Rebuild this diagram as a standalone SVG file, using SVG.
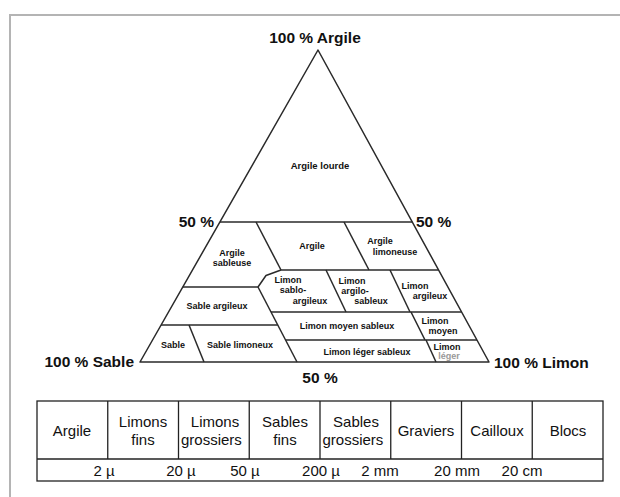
<svg xmlns="http://www.w3.org/2000/svg" width="620" height="497" viewBox="0 0 620 497">
<style>
.frame{fill:none;stroke:#b4b4b4;stroke-width:2}
.ln{fill:none;stroke:#2a2a2a;stroke-width:1.5;stroke-linejoin:round}
.big{font-family:"Liberation Sans",Arial,sans-serif;font-weight:bold;font-size:15.5px;fill:#111}
.lab{font-family:"Liberation Sans",Arial,sans-serif;font-weight:bold;font-size:9px;fill:#111;text-anchor:middle}
.tb{fill:none;stroke:#222;stroke-width:1.3}
.tt{font-family:"Liberation Sans",Arial,sans-serif;font-size:15px;fill:#111;text-anchor:middle}
.st{text-anchor:start}
</style>
<rect width="620" height="497" fill="#fff"/>
<rect class="frame" x="10" y="15" width="620" height="500"/>

<g id="axes-labels">
<text class="big" x="315" y="43" text-anchor="middle">100 % Argile</text>
<text class="big" x="214" y="227" text-anchor="end">50 %</text>
<text class="big" x="416" y="227">50 %</text>
<text class="big" x="134" y="367" text-anchor="end">100 % Sable</text>
<text class="big" x="494" y="368">100 % Limon</text>
<text class="big" x="320" y="383" text-anchor="middle">50 %</text>
</g>

<g id="connectors">
<polygon class="ln" points="318,50 140,362 489,362"/>
<line class="ln" x1="220" y1="222" x2="412.3" y2="222"/>
<line class="ln" x1="256" y1="222" x2="281" y2="270"/>
<line class="ln" x1="344" y1="222" x2="369" y2="270"/>
<line class="ln" x1="281" y1="270" x2="438.6" y2="270"/>
<polyline class="ln" points="281,270 266,275.5 258,287"/>
<line class="ln" x1="182.8" y1="287" x2="258" y2="287"/>
<line class="ln" x1="258" y1="287" x2="297" y2="362"/>
<line class="ln" x1="326" y1="270" x2="346" y2="312"/>
<line class="ln" x1="390" y1="270" x2="410" y2="312"/>
<line class="ln" x1="271" y1="312" x2="461.6" y2="312"/>
<line class="ln" x1="161" y1="325" x2="277.8" y2="325"/>
<line class="ln" x1="411" y1="312" x2="425" y2="340"/>
<line class="ln" x1="285.6" y1="340" x2="477" y2="340"/>
<line class="ln" x1="426" y1="340" x2="436" y2="362"/>
<line class="ln" x1="189" y1="325" x2="204" y2="362"/>
</g>

<g id="argile-lourde"><text class="lab" x="320" y="169" style="font-size:9.5px">Argile lourde</text></g>
<g id="argile-sableuse"><text class="lab" x="232" y="256">Argile</text><text class="lab" x="232" y="266">sableuse</text></g>
<g id="argile"><text class="lab" x="312" y="249">Argile</text></g>
<g id="argile-limoneuse"><text class="lab" x="380" y="244">Argile</text><text class="lab" x="395" y="255">limoneuse</text></g>
<g id="limon-sablo-argileux"><text class="lab" x="288" y="283">Limon</text><text class="lab" x="293" y="293">sablo-</text><text class="lab" x="310" y="304">argileux</text></g>
<g id="limon-argilo-sableux"><text class="lab" x="352" y="284">Limon</text><text class="lab" x="355" y="294">argilo-</text><text class="lab" x="371" y="304">sableux</text></g>
<g id="limon-argileux"><text class="lab" x="415" y="289">Limon</text><text class="lab" x="430" y="299">argileux</text></g>
<g id="sable-argileux"><text class="lab" x="217" y="309">Sable argileux</text></g>
<g id="limon-moyen-sableux"><text class="lab" x="347" y="329">Limon moyen sableux</text></g>
<g id="limon-moyen"><text class="lab" x="435" y="324">Limon</text><text class="lab" x="443" y="334">moyen</text></g>
<g id="sable"><text class="lab" x="173" y="348">Sable</text></g>
<g id="sable-limoneux"><text class="lab" x="240" y="348">Sable limoneux</text></g>
<g id="limon-leger-sableux"><text class="lab" x="367" y="355">Limon léger sableux</text></g>
<g id="limon"><text class="lab" x="447" y="350">Limon</text><text class="lab" x="449" y="359" style="fill:#999">léger</text></g>

<g id="table">
<rect class="tb" x="37" y="401" width="566" height="80"/>
<line class="tb" x1="37" y1="459" x2="603" y2="459"/>
<line class="tb" x1="107.75" y1="401" x2="107.75" y2="459"/>
<line class="tb" x1="178.5" y1="401" x2="178.5" y2="459"/>
<line class="tb" x1="249.25" y1="401" x2="249.25" y2="459"/>
<line class="tb" x1="320" y1="401" x2="320" y2="459"/>
<line class="tb" x1="390.75" y1="401" x2="390.75" y2="459"/>
<line class="tb" x1="461.5" y1="401" x2="461.5" y2="459"/>
<line class="tb" x1="532.25" y1="401" x2="532.25" y2="459"/>
</g>
<g id="col-argile"><text class="tt" x="72" y="436">Argile</text></g>
<g id="col-limons-fins"><text class="tt" x="143" y="427">Limons</text><text class="tt" x="143" y="445">fins</text></g>
<g id="col-limons-grossiers"><text class="tt" x="215" y="427">Limons</text><text class="tt st" x="181" y="445">grossiers</text></g>
<g id="col-sables-fins"><text class="tt" x="285" y="427">Sables</text><text class="tt" x="285" y="445">fins</text></g>
<g id="col-sables-grossiers"><text class="tt" x="356" y="427">Sables</text><text class="tt st" x="322.5" y="445">grossiers</text></g>
<g id="col-graviers"><text class="tt" x="426" y="436">Graviers</text></g>
<g id="col-cailloux"><text class="tt" x="497" y="436">Cailloux</text></g>
<g id="col-blocs"><text class="tt" x="568" y="436">Blocs</text></g>
<g id="limits">
<text class="tt" x="104" y="476">2 µ</text>
<text class="tt" x="181" y="476">20 µ</text>
<text class="tt" x="245" y="476">50 µ</text>
<text class="tt" x="321" y="476">200 µ</text>
<text class="tt" x="380" y="476">2 mm</text>
<text class="tt" x="457" y="476">20 mm</text>
<text class="tt" x="522" y="476">20 cm</text>
</g>
</svg>
